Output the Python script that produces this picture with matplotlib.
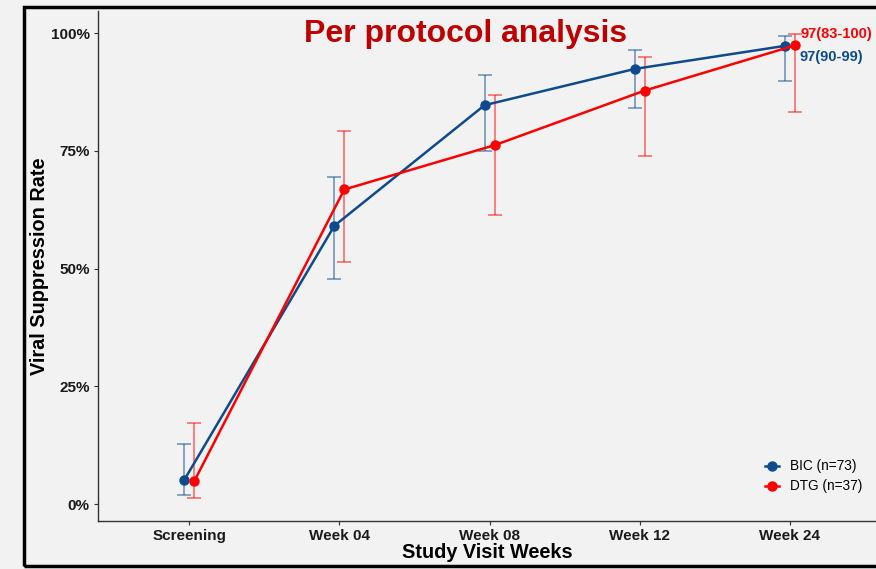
import numpy as np
import matplotlib
matplotlib.use('Agg')
import matplotlib.pyplot as plt
from matplotlib.patches import Rectangle

plt.rcParams['font.family'] = ['Liberation Sans', 'DejaVu Sans']

# 資料
visits = ['Screening', 'Week 04', 'Week 08', 'Week 12', 'Week 24']

bic_rate = [5.1, 59.1, 84.7, 92.4, 97.3]
bic_low = [2.0, 47.8, 74.9, 84.0, 89.8]
bic_high = [12.7, 69.4, 91.2, 96.5, 99.4]

dtg_rate = [4.8, 66.8, 76.2, 87.8, 97.4]
dtg_low = [1.3, 51.4, 61.3, 74.0, 83.3]
dtg_high = [17.2, 79.3, 86.8, 94.9, 99.8]

bic_label = '97(90-99)'
dtg_label = '97(83-100)'

bic_color = '#0d4b8e'
dtg_color = '#ff0000'
bg = '#f2f2f2'

fig = plt.figure(figsize=(8.76, 5.69), dpi=100, facecolor=bg)
ax = fig.add_axes([98 / 876, 1 - 521 / 569, 1 - 98 / 876, (521 - 11) / 569])
ax.set_facecolor(bg)

x = np.arange(1, len(visits) + 1)
dodge = 0.033

for rate, low, high, col, lab, off in [
        (bic_rate, bic_low, bic_high, bic_color, 'BIC (n=73)', -dodge),
        (dtg_rate, dtg_low, dtg_high, dtg_color, 'DTG (n=37)', dodge)]:
    rate = np.array(rate)
    yerr = [rate - np.array(low), np.array(high) - rate]
    ax.errorbar(x + off, rate, yerr=yerr, fmt='none', ecolor=col, alpha=0.6,
                elinewidth=1.1, capsize=5, capthick=1.1, zorder=2)
    ax.plot(x + off, rate, color=col, lw=1.8, marker='o', ms=6.5, label=lab, zorder=3)

# 最後一點標註
ax.text(5 + dodge + 0.04, dtg_high[-1], dtg_label, color=dtg_color,
        fontsize=10.5, fontweight='bold', va='center', ha='left')
ax.text(5 + dodge + 0.03, 94.9, bic_label, color=bic_color,
        fontsize=10.5, fontweight='bold', va='center', ha='left')

ax.set_xlim(0.393, 5.573)
ax.set_ylim(-3.6, 104.7)
ax.set_xticks(x)
ax.set_xticklabels(visits)
ax.set_yticks([0, 25, 50, 75, 100])
ax.set_yticklabels(['0%', '25%', '50%', '75%', '100%'])
for t in ax.get_xticklabels() + ax.get_yticklabels():
    t.set_fontweight('bold')
    t.set_fontsize(11)
    t.set_color('#1a1a1a')
ax.tick_params(length=3, color='#333333', width=0.8, pad=3)

for s in ['top', 'right']:
    ax.spines[s].set_visible(False)
for s in ['left', 'bottom']:
    ax.spines[s].set_color('#333333')
    ax.spines[s].set_linewidth(1.0)

ax.set_xlabel('Study Visit Weeks', fontsize=14.3, fontweight='bold', labelpad=0)
ax.set_ylabel('Viral Suppression Rate', fontsize=14.3, fontweight='bold')
ax.yaxis.set_label_coords(-0.063, 0.5)

ax.legend(loc='lower right', bbox_to_anchor=(0.998, 0.03), frameon=False,
          fontsize=9.8, handlelength=1.0, labelspacing=0.45, handletextpad=0.8)

fig.text(466 / 876, 1 - 34 / 569, 'Per protocol analysis', color='#c00000',
         fontsize=23, fontweight='bold', ha='center', va='center')

# 外框
fig.patches.append(Rectangle((24 / 876, 1 - 566 / 569), 1.2, (566 - 7) / 569,
                             transform=fig.transFigure, fill=False,
                             edgecolor='black', lw=2.5, zorder=10))

fig.savefig('out.png', dpi=100, facecolor=bg)
